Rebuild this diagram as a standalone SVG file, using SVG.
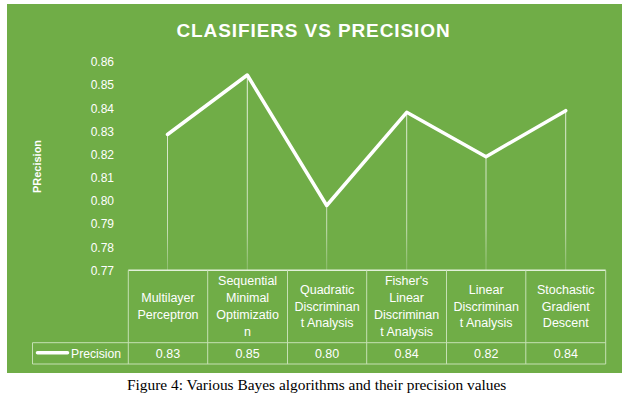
<svg xmlns="http://www.w3.org/2000/svg" width="635" height="401" viewBox="0 0 635 401">
<defs>
<linearGradient id="drop" gradientUnits="userSpaceOnUse" x1="0" y1="60" x2="0" y2="271">
<stop offset="0" stop-color="#ffffff" stop-opacity="0.85"/>
<stop offset="0.8" stop-color="#ffffff" stop-opacity="0.6"/>
<stop offset="1" stop-color="#ffffff" stop-opacity="0.2"/>
</linearGradient>
<style>
.t{font-family:"Liberation Sans",Arial,sans-serif;fill:#ffffff}
.tick{font-size:12px;text-anchor:end}
.cat{font-size:12.5px;text-anchor:middle}
.val{font-size:12.5px;text-anchor:middle}
.grid{stroke:#c5e0b4;stroke-width:1;fill:none}
.drop{stroke:url(#drop);stroke-width:1}
</style>
</defs>
<rect x="0" y="0" width="635" height="401" fill="#ffffff"/>
<rect id="chart-bg" x="7" y="4" width="615" height="369" fill="#70ad47"/>
<text class="t" x="313.5" y="36.5" font-size="19" font-weight="bold" text-anchor="middle" letter-spacing="0.9">CLASIFIERS VS PRECISION</text>
<text class="t" transform="translate(40.5,166.5) rotate(-90)" font-size="11" font-weight="bold" text-anchor="middle">PRecision</text>
<g id="y-axis">
<text class="t tick" x="114" y="66.3">0.86</text>
<text class="t tick" x="114" y="89.4">0.85</text>
<text class="t tick" x="114" y="112.6">0.84</text>
<text class="t tick" x="114" y="135.7">0.83</text>
<text class="t tick" x="114" y="158.9">0.82</text>
<text class="t tick" x="114" y="182">0.81</text>
<text class="t tick" x="114" y="205.2">0.80</text>
<text class="t tick" x="114" y="228.3">0.79</text>
<text class="t tick" x="114" y="251.5">0.78</text>
<text class="t tick" x="114" y="274.6">0.77</text>
</g>
<g id="connectors">
<line class="drop" x1="167.5" y1="134.5" x2="167.5" y2="270"/>
<line class="drop" x1="247.3" y1="75" x2="247.3" y2="270"/>
<line class="drop" x1="326.7" y1="205.5" x2="326.7" y2="270"/>
<line class="drop" x1="406.7" y1="112.3" x2="406.7" y2="270"/>
<line class="drop" x1="486" y1="156.7" x2="486" y2="270"/>
<line class="drop" x1="565.7" y1="110.7" x2="565.7" y2="270"/>
<polyline points="167.5,134.5 247.3,75 326.7,205.5 406.7,112.3 486,156.7 565.7,110.7" fill="none" stroke="#ffffff" stroke-width="3.5" stroke-linejoin="round" stroke-linecap="round"/>
</g>
<g id="table">
<line x1="128.3" y1="270.3" x2="605.7" y2="270.3" stroke="#e2f0d9" stroke-width="1.5"/>
<line class="grid" x1="32.5" y1="342.7" x2="605.7" y2="342.7"/>
<line class="grid" x1="32.5" y1="364" x2="605.7" y2="364"/>
<line class="grid" x1="32.5" y1="342.7" x2="32.5" y2="364"/>
<line class="grid" x1="128.3" y1="270.3" x2="128.3" y2="364"/>
<line class="grid" x1="207.7" y1="270.3" x2="207.7" y2="364"/>
<line class="grid" x1="287.5" y1="270.3" x2="287.5" y2="364"/>
<line class="grid" x1="366.7" y1="270.3" x2="366.7" y2="364"/>
<line class="grid" x1="446.5" y1="270.3" x2="446.5" y2="364"/>
<line class="grid" x1="525.8" y1="270.3" x2="525.8" y2="364"/>
<line class="grid" x1="605.7" y1="270.3" x2="605.7" y2="364"/>
</g>
<g id="cat-mlp">
<text class="t cat"><tspan x="168" y="302">Multilayer</tspan><tspan x="168" y="319.2">Perceptron</tspan></text>
<text class="t val" x="168" y="357.5">0.83</text>
</g>
<g id="cat-smo">
<text class="t cat"><tspan x="247.6" y="284.8">Sequential</tspan><tspan x="247.6" y="302">Minimal</tspan><tspan x="247.6" y="319.2">Optimizatio</tspan><tspan x="247.6" y="336.2">n</tspan></text>
<text class="t val" x="247.6" y="357.5">0.85</text>
</g>
<g id="cat-qda">
<text class="t cat"><tspan x="327.1" y="293.6">Quadratic</tspan><tspan x="327.1" y="310.6">Discriminan</tspan><tspan x="327.1" y="327.3">t Analysis</tspan></text>
<text class="t val" x="327.1" y="357.5">0.80</text>
</g>
<g id="cat-fisher">
<text class="t cat"><tspan x="406.6" y="284.8">Fisher's</tspan><tspan x="406.6" y="302">Linear</tspan><tspan x="406.6" y="319.2">Discriminan</tspan><tspan x="406.6" y="336.2">t Analysis</tspan></text>
<text class="t val" x="406.6" y="357.5">0.84</text>
</g>
<g id="cat-lda">
<text class="t cat"><tspan x="486.2" y="293.6">Linear</tspan><tspan x="486.2" y="310.6">Discriminan</tspan><tspan x="486.2" y="327.3">t Analysis</tspan></text>
<text class="t val" x="486.2" y="357.5">0.82</text>
</g>
<g id="cat-sgd">
<text class="t cat"><tspan x="565.8" y="293.6">Stochastic</tspan><tspan x="565.8" y="310.6">Gradient</tspan><tspan x="565.8" y="327.3">Descent</tspan></text>
<text class="t val" x="565.8" y="357.5">0.84</text>
</g>
<g id="legend">
<line x1="37.5" y1="352.7" x2="67.5" y2="352.7" stroke="#ffffff" stroke-width="3.5" stroke-linecap="round"/>
<text class="t" x="71" y="357.5" font-size="12.2">Precision</text>
</g>
<text x="127" y="390" font-family="'Liberation Serif','Times New Roman',serif" font-size="15.4" fill="#000000">Figure 4: Various Bayes algorithms and their precision values</text>
</svg>
